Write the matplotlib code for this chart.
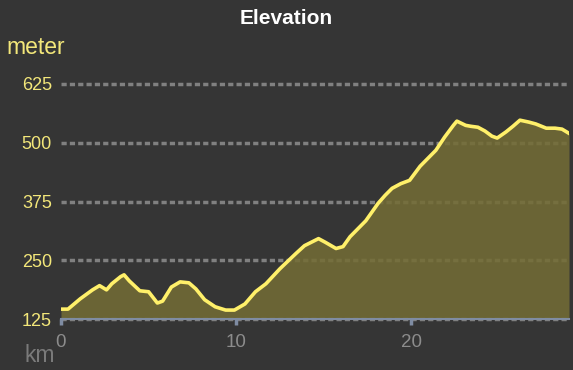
import numpy as np
import matplotlib
matplotlib.use('Agg')
from matplotlib import pyplot as plt

plt.rcParams['font.family'] = ['Liberation Sans', 'DejaVu Sans']

# distance (km) and elevation (m)
km = [0.0, 0.4, 1.1, 1.8, 2.2, 2.6, 2.9, 3.4, 3.6, 3.9, 4.5, 5.0, 5.5, 5.8, 6.3, 6.8,
      7.3, 7.7, 8.2, 8.8, 9.4, 9.9, 10.5, 11.1, 11.7, 12.5, 13.4, 13.9, 14.7, 15.1,
      15.7, 16.1, 16.5, 17.4, 18.1, 18.5, 18.9, 19.4, 19.9, 20.5, 21.4, 21.9, 22.4,
      22.6, 23.1, 23.4, 23.8, 24.2, 24.6, 24.9, 25.4, 25.8, 26.2, 26.7, 27.1, 27.7,
      28.2, 28.6, 29.0]
meter = [146, 146, 168, 187, 196, 187, 200, 215, 219, 206, 185, 183, 159, 163, 193, 204,
         202, 189, 166, 151, 144, 144, 157, 183, 200, 232, 264, 281, 296, 288,
         275, 279, 300, 334, 371, 388, 403, 413, 420, 450, 484, 512, 537,
         546, 537, 535, 533, 525, 514, 510, 523, 535, 548, 544, 540, 531,
         531, 529, 520]
y_ticks = [125, 250, 375, 500, 625]
x_ticks = [0, 10, 20]

bg = '#353535'
fig = plt.figure(figsize=(5.73, 3.70), dpi=100, facecolor=bg)
ax = fig.add_axes([61 / 573, 51 / 370, 508 / 573, 235 / 370], facecolor=bg)
ax.set_xlim(0, 29.0)
ax.set_ylim(125, 625)

# dashed grid behind the filled area
for v in y_ticks:
    ax.axhline(v, color='#808080', lw=2.5, dashes=(1.5, 0.9), clip_on=False, zorder=1)

ax.fill_between(km, meter, 125, color='#746d35', alpha=0.86, lw=0, zorder=2)
ax.plot(km, meter, color='#fff06a', lw=2.6, solid_joinstyle='round', zorder=3)

for s in ['top', 'right', 'left']:
    ax.spines[s].set_visible(False)
ax.spines['bottom'].set_color('#7f8ca3')
ax.spines['bottom'].set_linewidth(1.5)
ax.spines['bottom'].set_zorder(4)
ax.set_xticks(x_ticks)
ax.set_yticks(y_ticks)
ax.tick_params(axis='x', colors='#7f8ca3', length=4, width=2.5, labelsize=13.5,
               labelcolor='#8c8c8c', pad=7)
ax.tick_params(axis='y', length=0, labelsize=13, labelcolor='#f3e77a', pad=6.5)

fig.text(0.5, 1 - 18 / 370, 'Elevation', color='white', fontsize=15, fontweight='bold',
         ha='center', va='center')
fig.text(6 / 573, 1 - 47 / 370, 'meter', color='#f3e77a', fontsize=16.5, ha='left', va='center')
fig.text(25 / 573, 1 - 356 / 370, 'km', color='#7a7a7a', fontsize=16.5, ha='left', va='center')

fig.savefig('out.png', dpi=100, facecolor=bg)
